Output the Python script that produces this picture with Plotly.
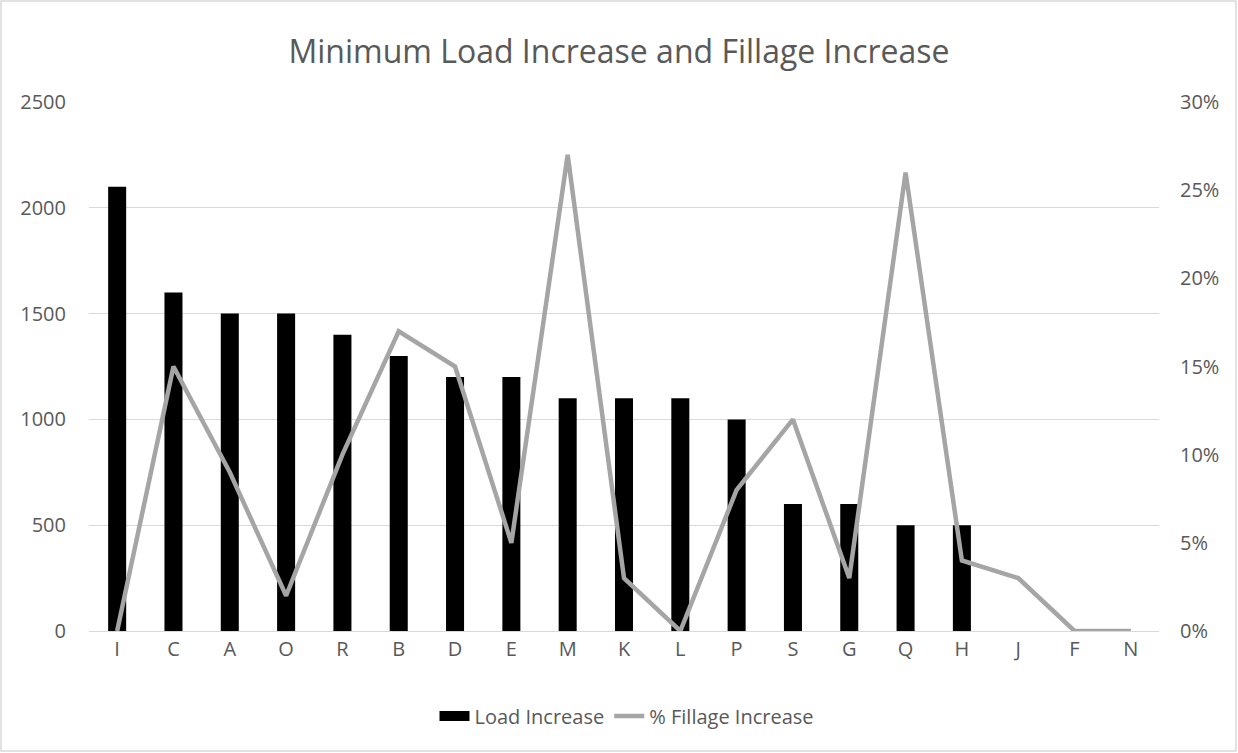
import plotly.graph_objects as go

# Categories in display order
categories = ["I", "C", "A", "O", "R", "B", "D", "E", "M", "K",
              "L", "P", "S", "G", "Q", "H", "J", "F", "N"]

# Minimum load increase (left axis)
load_increase = [2100, 1600, 1500, 1500, 1400, 1300, 1200, 1200, 1100, 1100,
                 1100, 1000, 600, 600, 500, 500, 0, 0, 0]

# Fillage increase as a fraction (right axis)
fillage_increase = [0.00, 0.15, 0.09, 0.02, 0.10, 0.17, 0.15, 0.05, 0.27, 0.03,
                    0.00, 0.08, 0.12, 0.03, 0.26, 0.04, 0.03, 0.00, 0.00]

FONT = "Open Sans, Calibri, sans-serif"
TEXT = "#595959"
GRID = "#D9D9D9"

fig = go.Figure()
fig.add_trace(go.Bar(
    x=categories, y=load_increase, name="Load Increase",
    marker=dict(color="#000000", line=dict(width=0)),
    legendgroup="load", showlegend=False,
))
# Wide black swatch for the bar series in the legend
fig.add_trace(go.Scatter(
    x=[None], y=[None], name="Load Increase", mode="lines",
    line=dict(color="#000000", width=15), legendgroup="load",
    hoverinfo="skip",
))
fig.add_trace(go.Scatter(
    x=categories, y=fillage_increase, name="% Fillage Increase",
    yaxis="y2", mode="lines",
    line=dict(color="#A5A5A5", width=4.5),
))

# Plot-area geometry in pixels, used for the outer frame
L, R, T, B = 89, 79, 102, 122
W, H = 1238, 753
pw, ph = W - L - R, H - T - B

def px_x(x):
    return (x - L) / pw

def px_y(y):
    return (H - B - y) / ph

fig.update_layout(
    width=W, height=H,
    margin=dict(l=L, r=R, t=T, b=B),
    paper_bgcolor="white", plot_bgcolor="white",
    font=dict(family=FONT, size=20, color=TEXT),
    title=dict(text="Minimum Load Increase and Fillage Increase",
               x=0.5, xanchor="center", y=1 - 52 / H, yanchor="middle",
               font=dict(size=32, color=TEXT, family=FONT)),
    bargap=0.68,
    showlegend=True,
    legend=dict(orientation="h", x=px_x(627), xanchor="center",
                y=px_y(716), yanchor="middle",
                font=dict(size=20, color=TEXT),
                bgcolor="rgba(0,0,0,0)"),
    xaxis=dict(showgrid=False, showline=True, linecolor=GRID, linewidth=1,
               ticks="", tickfont=dict(size=20, color=TEXT)),
    yaxis=dict(range=[0, 2500], dtick=500, showgrid=True, gridcolor=GRID,
               gridwidth=1, zeroline=False, showline=False, ticks="",
               ticklabelstandoff=22,
               tickfont=dict(size=20, color=TEXT)),
    yaxis2=dict(range=[0, 0.30], dtick=0.05, tickformat=".0%",
                overlaying="y", side="right", showgrid=False,
                zeroline=False, showline=False, ticks="",
                ticklabelstandoff=20,
                tickfont=dict(size=20, color=TEXT)),
    shapes=[dict(type="rect", xref="paper", yref="paper",
                 x0=px_x(1), x1=px_x(W - 2), y0=px_y(H - 2), y1=px_y(1),
                 line=dict(color=GRID, width=1.5), fillcolor="rgba(0,0,0,0)",
                 layer="below")],
)

fig.write_html("out.html")
